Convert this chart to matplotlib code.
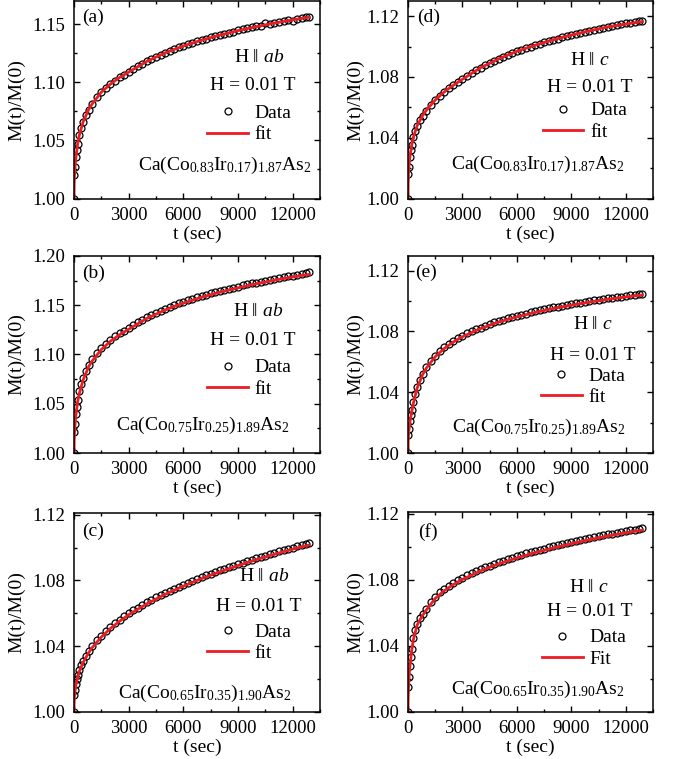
import matplotlib
matplotlib.use("Agg")
import matplotlib.pyplot as plt
from matplotlib.ticker import MultipleLocator, FormatStrFormatter

plt.rcParams['font.family'] = ['Liberation Serif', 'DejaVu Serif']
plt.rcParams['mathtext.fontset'] = 'custom'
plt.rcParams['mathtext.rm'] = 'Liberation Serif'
plt.rcParams['mathtext.it'] = 'Liberation Serif:italic'
plt.rcParams['mathtext.bf'] = 'Liberation Serif:bold'
plt.rcParams['mathtext.fallback'] = 'stix'

# ---------------- data ----------------
t_data = [0, 25, 50, 100, 150, 200, 300, 400, 500, 650, 800, 1000, 1250, 1500, 1750,
          2000, 2250, 2500, 2750, 3000, 3250, 3500, 3750, 4000, 4250, 4500, 4750, 5000,
          5250, 5500, 5750, 6000, 6250, 6500, 6750, 7000, 7250, 7500, 7750, 8000, 8250,
          8500, 8750, 9000, 9250, 9500, 9750, 10000, 10250, 10500, 10750, 11000, 11250,
          11500, 11750, 12000, 12250, 12500, 12750, 12900]

data_a = [1.000, 1.020, 1.027, 1.036, 1.042, 1.047, 1.055, 1.061, 1.066, 1.072,
          1.0765, 1.0815, 1.087, 1.0915, 1.0953, 1.0985, 1.1015, 1.1042, 1.1067, 1.1090,
          1.1116, 1.1140, 1.1162, 1.1183, 1.1203, 1.1222, 1.1239, 1.1256, 1.1272, 1.1287,
          1.1301, 1.1315, 1.1328, 1.1341, 1.1353, 1.1365, 1.1376, 1.1387, 1.1398, 1.1408,
          1.1418, 1.1428, 1.1437, 1.1447, 1.1456, 1.1464, 1.1473, 1.1481, 1.1489, 1.1512,
          1.1504, 1.1512, 1.1519, 1.1526, 1.1533, 1.1526, 1.1547, 1.1553, 1.1560, 1.1565]
data_b = [1.000, 1.021, 1.029, 1.040, 1.047, 1.054, 1.063, 1.070, 1.076, 1.083,
          1.089, 1.095, 1.1015, 1.1065, 1.111, 1.1148, 1.1183, 1.1215, 1.1243, 1.1270,
          1.1301, 1.1329, 1.1355, 1.1380, 1.1403, 1.1425, 1.1446, 1.1465, 1.1484, 1.1502,
          1.1519, 1.1535, 1.1551, 1.1566, 1.1580, 1.1594, 1.1607, 1.1620, 1.1633, 1.1645,
          1.1657, 1.1668, 1.1679, 1.1690, 1.1701, 1.1711, 1.1721, 1.1730, 1.1740, 1.1749,
          1.1758, 1.1767, 1.1775, 1.1784, 1.1792, 1.1800, 1.1808, 1.1816, 1.1823, 1.1835]
data_c = [1.000, 1.0103, 1.0133, 1.0172, 1.0199, 1.0222, 1.0257, 1.0286, 1.0310, 1.0342,
          1.0369, 1.0401, 1.0435, 1.0465, 1.0492, 1.0517, 1.0540, 1.0561, 1.0581, 1.0600,
          1.0618, 1.0635, 1.0651, 1.0667, 1.0682, 1.0697, 1.0711, 1.0724, 1.0737, 1.0750,
          1.0762, 1.0774, 1.0786, 1.0798, 1.0809, 1.0820, 1.0830, 1.0841, 1.0851, 1.0861,
          1.0871, 1.0880, 1.0890, 1.0899, 1.0908, 1.0917, 1.0926, 1.0935, 1.0943, 1.0951,
          1.0960, 1.0968, 1.0976, 1.0984, 1.0992, 1.0999, 1.1007, 1.1014, 1.1022, 1.1030]
data_d = [1.000, 1.016, 1.021, 1.027, 1.032, 1.035, 1.0405, 1.0445, 1.0478, 1.0514,
          1.0545, 1.0579, 1.0616, 1.0648, 1.0676, 1.0702, 1.0725, 1.0746, 1.0766, 1.0785,
          1.0806, 1.0826, 1.0844, 1.0861, 1.0877, 1.0892, 1.0907, 1.0920, 1.0933, 1.0945,
          1.0957, 1.0969, 1.0979, 1.0990, 1.1000, 1.1009, 1.1019, 1.1028, 1.1036, 1.1045,
          1.1053, 1.1061, 1.1068, 1.1076, 1.1083, 1.1090, 1.1097, 1.1104, 1.1110, 1.1117,
          1.1123, 1.1129, 1.1135, 1.1141, 1.1146, 1.1152, 1.1157, 1.1163, 1.1168, 1.1171]
data_e = [1.000, 1.012, 1.016, 1.021, 1.025, 1.028, 1.0336, 1.0391, 1.0433, 1.0483,
          1.0522, 1.0564, 1.0606, 1.0641, 1.0670, 1.0695, 1.0718, 1.0738, 1.0756, 1.0772,
          1.0787, 1.0801, 1.0814, 1.0826, 1.0838, 1.0849, 1.0859, 1.0869, 1.0878, 1.0887,
          1.0895, 1.0903, 1.0911, 1.0918, 1.0925, 1.0932, 1.0939, 1.0945, 1.0952, 1.0958,
          1.0963, 1.0969, 1.0975, 1.0980, 1.0985, 1.0990, 1.0995, 1.1000, 1.1005, 1.1009,
          1.1014, 1.1018, 1.1022, 1.1026, 1.1030, 1.1034, 1.1038, 1.1042, 1.1046, 1.1048]
data_f = [1.000, 1.015, 1.021, 1.028, 1.033, 1.038, 1.045, 1.0495, 1.0535, 1.057,
          1.0595, 1.0625, 1.0665, 1.0697, 1.0723, 1.0744, 1.0763, 1.0781, 1.0797, 1.0812,
          1.0826, 1.0839, 1.0852, 1.0864, 1.0875, 1.0886, 1.0896, 1.0906, 1.0916, 1.0925,
          1.0934, 1.0943, 1.0951, 1.0959, 1.0967, 1.0974, 1.0982, 1.0989, 1.0996, 1.1003,
          1.1009, 1.1016, 1.1022, 1.1028, 1.1034, 1.1040, 1.1046, 1.1052, 1.1058, 1.1063,
          1.1068, 1.1074, 1.1079, 1.1084, 1.1089, 1.1094, 1.1099, 1.1104, 1.1108, 1.1111]

t_fit = [0, 10, 25, 50, 100, 200, 300, 500, 800, 1000, 1500, 2000, 2500, 3000, 4000,
         5000, 6000, 7000, 8000, 9000, 10000, 11000, 12000, 12900]
fit_a = [1.0, 1.012, 1.019, 1.026, 1.035, 1.047, 1.055, 1.066, 1.0765, 1.0815, 1.0915, 1.0985,
         1.1042, 1.1088, 1.1181, 1.1254, 1.1313, 1.1363, 1.1406, 1.1445, 1.1479, 1.1510,
         1.1538, 1.1560]
fit_b = [1.0, 1.012, 1.019, 1.027, 1.038, 1.052, 1.061, 1.074, 1.0875, 1.0935, 1.105, 1.1135,
         1.120, 1.1256, 1.1366, 1.1452, 1.1522, 1.1581, 1.1632, 1.1677, 1.1717, 1.1754,
         1.1787, 1.1813]
fit_c = [1.0, 1.006, 1.009, 1.0123, 1.0163, 1.0213, 1.0248, 1.0301, 1.0360, 1.0392, 1.0456,
         1.0508, 1.0552, 1.0591, 1.0658, 1.0715, 1.0765, 1.0811, 1.0852, 1.0890, 1.0926,
         1.0959, 1.0990, 1.1015]
fit_d = [1.0, 1.010, 1.016, 1.021, 1.027, 1.035, 1.0405, 1.0478, 1.0545, 1.0579, 1.0648,
         1.0702, 1.0746, 1.0785, 1.0861, 1.0920, 1.0969, 1.1009, 1.1045, 1.1076, 1.1104,
         1.1129, 1.1148, 1.1165]
fit_e = [1.0, 1.008, 1.011, 1.015, 1.020, 1.027, 1.0329, 1.0426, 1.0515, 1.0557, 1.0634,
         1.0688, 1.0731, 1.0765, 1.0819, 1.0862, 1.0896, 1.0925, 1.0951, 1.0973, 1.0993,
         1.1011, 1.1027, 1.1040]
fit_f = [1.0, 1.009, 1.014, 1.020, 1.027, 1.037, 1.044, 1.0525, 1.0585, 1.0615, 1.0687,
         1.0734, 1.0771, 1.0802, 1.0854, 1.0896, 1.0932, 1.0964, 1.0992, 1.1018, 1.1042,
         1.1064, 1.1084, 1.1100]

panel_labels = ['(a)', '(b)', '(c)', '(d)', '(e)', '(f)']
field_dirs = [r'H $\Vert$ $\mathit{ab}$', r'H $\Vert$ $\mathit{ab}$',
              r'H $\Vert$ $\mathit{ab}$', r'H $\Vert$ $\mathit{c}$',
              r'H $\Vert$ $\mathit{c}$', r'H $\Vert$ $\mathit{c}$']
field_text = 'H = 0.01 T'
compounds = [r'Ca(Co$_{0.83}$Ir$_{0.17}$)$_{1.87}$As$_2$',
             r'Ca(Co$_{0.75}$Ir$_{0.25}$)$_{1.89}$As$_2$',
             r'Ca(Co$_{0.65}$Ir$_{0.35}$)$_{1.90}$As$_2$',
             r'Ca(Co$_{0.83}$Ir$_{0.17}$)$_{1.87}$As$_2$',
             r'Ca(Co$_{0.75}$Ir$_{0.25}$)$_{1.89}$As$_2$',
             r'Ca(Co$_{0.65}$Ir$_{0.35}$)$_{1.90}$As$_2$']
fit_names = ['fit', 'fit', 'fit', 'fit', 'fit', 'Fit']
datas = [data_a, data_b, data_c, data_d, data_e, data_f]
fits = [fit_a, fit_b, fit_c, fit_d, fit_e, fit_f]
ylims = [(1.0, 1.17), (1.0, 1.2005), (1.0, 1.121), (1.0, 1.13), (1.0, 1.13), (1.0, 1.121)]
ymajor = [0.05, 0.05, 0.04, 0.04, 0.04, 0.04]

# ---------------- layout ----------------
W, H = 683, 759
fig = plt.figure(figsize=(W / 100, H / 100), dpi=100)

def rect(x0, x1, y0, y1):
    return [x0 / W, (H - y1) / H, (x1 - x0) / W, (y1 - y0) / H]

rects = [rect(74, 320, 1, 198.5), rect(74, 320, 255.5, 453), rect(74, 320, 513, 712),
         rect(408, 653, 1, 198.5), rect(408, 653, 255.5, 453), rect(408, 653, 512, 712)]

# text positions (axes fraction)
lab_pos = [(0.033, 0.919), (0.033, 0.909), (0.033, 0.907),
           (0.037, 0.915), (0.030, 0.917), (0.041, 0.90)]
dir_pos = [(0.752, 0.716), (0.748, 0.716), (0.774, 0.68),
           (0.742, 0.70), (0.755, 0.649), (0.739, 0.62)]
fld_pos = [(0.728, 0.574), (0.726, 0.572), (0.752, 0.529),
           (0.742, 0.56), (0.753, 0.492), (0.741, 0.50)]
cmp_pos = [(0.615, 0.168), (0.525, 0.142), (0.533, 0.094),
           (0.529, 0.17), (0.535, 0.131), (0.531, 0.115)]
leg_pos = [(0.541, 0.378), (0.541, 0.378), (0.541, 0.349),
           (0.549, 0.391), (0.542, 0.3365), (0.546, 0.3185)]

RED = '#ec1c24'
FS = 14

for i in range(6):
    ax = fig.add_axes(rects[i])
    hd, = ax.plot(t_data, datas[i], ls='none', marker='o', ms=5.0, mfc='none',
                  mec='black', mew=0.9, label='Data')
    hf, = ax.plot(t_fit, fits[i], color=RED, lw=2.0, label=fit_names[i])
    ax.set_xlim(0, 13500)
    ax.set_ylim(*ylims[i])
    ax.xaxis.set_major_locator(MultipleLocator(3000))
    ax.xaxis.set_minor_locator(MultipleLocator(1500))
    ax.yaxis.set_major_locator(MultipleLocator(ymajor[i]))
    ax.yaxis.set_minor_locator(MultipleLocator(ymajor[i] / 2))
    ax.yaxis.set_major_formatter(FormatStrFormatter('%.2f'))
    ax.tick_params(which='both', direction='in', top=True, right=True, width=1.0,
                   labelsize=13.5)
    ax.tick_params(which='major', length=4)
    ax.tick_params(which='minor', length=2.2)
    ax.tick_params(axis='y', pad=6)
    ax.tick_params(axis='x', pad=6)
    for s in ax.spines.values():
        s.set_linewidth(1.1)
    ax.set_xlabel('t (sec)', fontsize=FS, labelpad=1)
    ax.set_ylabel('M(t)/M(0)', fontsize=FS, labelpad=5 if i < 3 else 1.5)
    ax.text(*lab_pos[i], panel_labels[i], transform=ax.transAxes, fontsize=FS,
            ha='left', va='center')
    ax.text(*dir_pos[i], field_dirs[i], transform=ax.transAxes, fontsize=FS,
            ha='center', va='center')
    ax.text(*fld_pos[i], field_text, transform=ax.transAxes, fontsize=FS,
            ha='center', va='center')
    ax.text(*cmp_pos[i], compounds[i], transform=ax.transAxes, fontsize=FS,
            ha='center', va='center')
    ax.legend([hd, hf], ['Data', fit_names[i]], loc='center left',
              bbox_to_anchor=leg_pos[i], frameon=False, fontsize=FS,
              handlelength=2.1, handletextpad=0.35, labelspacing=0.2,
              borderpad=0, borderaxespad=0, numpoints=1, markerscale=1.0)

fig.savefig('out.png', dpi=100)
